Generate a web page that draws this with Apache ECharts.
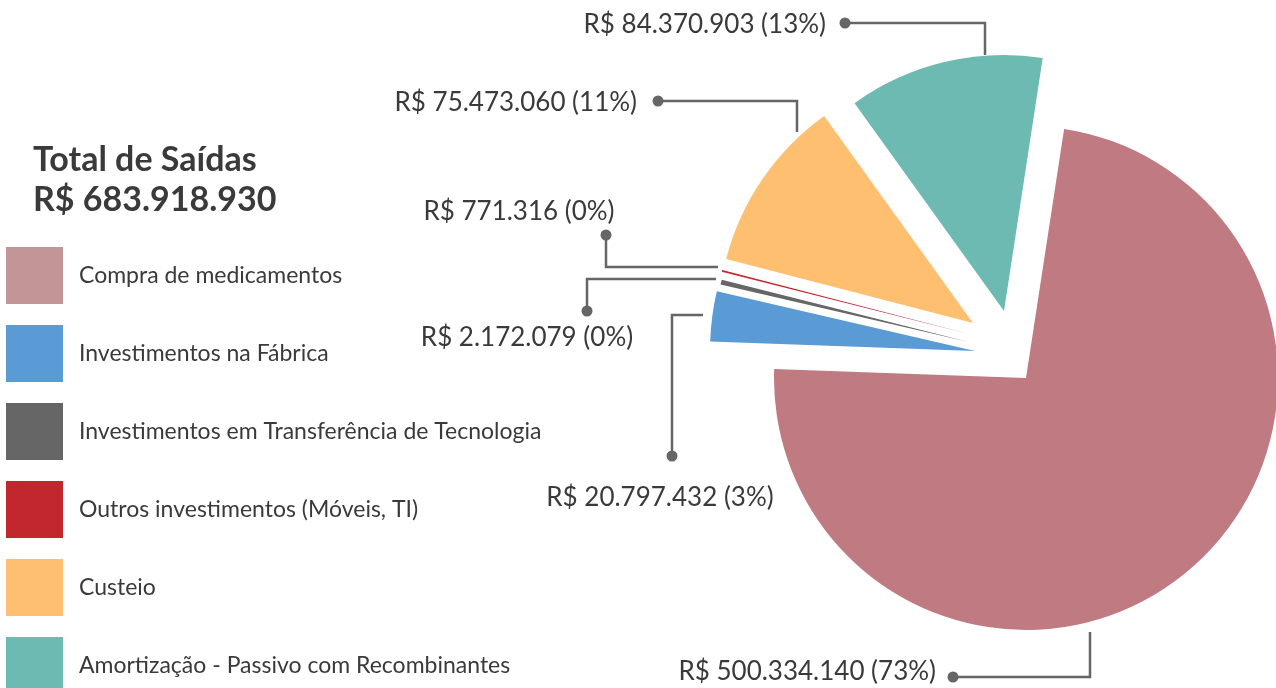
<!DOCTYPE html>
<html>
<head>
<meta charset="utf-8">
<script src="https://cdn.jsdelivr.net/npm/echarts@6/dist/echarts.min.js"></script>
<style>
  html, body { margin: 0; padding: 0; background: #ffffff; }
  #chart { width: 1276px; height: 688px; }
</style>
</head>
<body>
<div id="chart"></div>
<script>
// ---- data ----
const CATEGORIES = [
  'Compra de medicamentos',
  'Investimentos na Fábrica',
  'Investimentos em Transferência de Tecnologia',
  'Outros investimentos (Móveis, TI)',
  'Custeio',
  'Amortização - Passivo com Recombinantes'
];
const VALUES = [500334140, 20797432, 2172079, 771316, 75473060, 84370903];
const PERCENT_LABELS = [73, 3, 0, 0, 11, 13];
const TITLE_LINES = ['Total de Saídas', 'R$ 683.918.930'];

// ---- styles ----
const SLICE_COLORS = ['#bf7b81', '#5b9bd5', '#666666', '#c1272d', '#ffbf71', '#6cbab1'];
const LEGEND_COLORS = ['#c29596', '#5b9bd5', '#666666', '#c1272d', '#ffbf71', '#6cbab1'];
const FONT = 'Lato, "Open Sans", sans-serif';
const TEXT_COLOR = '#3a3a3a';
const LINE_COLOR = '#666666';

// ---- layout (exploded slices, each with its own centre) ----
const SLICE_POS = [
  { cx: 1026, cy: 378, r: 252 },
  { cx: 975,  cy: 351, r: 265 },
  { cx: 969,  cy: 342, r: 255 },
  { cx: 969,  cy: 334, r: 255 },
  { cx: 973,  cy: 323, r: 255 },
  { cx: 1004, cy: 311, r: 256 }
];
const START_ANGLE = 81.3;
const LABEL_POS = [
  { x: 936, y: 672, align: 'right',  line: [[1090, 632], [1090, 677], [953, 677]] },
  { x: 660, y: 498, align: 'center', line: [[703, 315], [672, 315], [672, 456]] },
  { x: 527, y: 338, align: 'center', line: [[716, 279], [587, 279], [587, 311]] },
  { x: 519, y: 212, align: 'center', line: [[718, 267], [606, 267], [606, 235]] },
  { x: 637, y: 103, align: 'right',  line: [[797, 132], [797, 101], [658, 101]] },
  { x: 826, y: 25,  align: 'right',  line: [[985, 55], [985, 23], [845, 23]] }
];

function fmtBRL(v) {
  return 'R$ ' + String(v).replace(/\B(?=(\d{3})+(?!\d))/g, '.');
}

const chart = echarts.init(document.getElementById('chart'), null, { renderer: 'canvas' });

const series = CATEGORIES.map(function (cat, k) {
  return {
    type: 'pie',
    name: cat,
    center: [SLICE_POS[k].cx, SLICE_POS[k].cy],
    radius: [0, SLICE_POS[k].r],
    startAngle: START_ANGLE,
    clockwise: true,
    silent: true,
    animation: false,
    avoidLabelOverlap: false,
    z: 2,
    itemStyle: { borderWidth: 0 },
    label: {
      show: true,
      fontFamily: FONT,
      fontSize: 26,
      color: TEXT_COLOR,
      formatter: function (p) {
        return fmtBRL(VALUES[p.dataIndex]) + ' (' + PERCENT_LABELS[p.dataIndex] + '%)';
      }
    },
    labelLine: {
      show: true,
      lineStyle: { color: LINE_COLOR, width: 2.5 }
    },
    labelLayout: function (p) {
      if (p.dataIndex !== k) return {};
      const L = LABEL_POS[k];
      return {
        x: L.x, y: L.y, align: L.align, verticalAlign: 'middle',
        labelLinePoints: L.line
      };
    },
    data: CATEGORIES.map(function (n, i) {
      return {
        name: n,
        value: VALUES[i],
        itemStyle: { color: i === k ? SLICE_COLORS[i] : 'rgba(0,0,0,0)' },
        label: { show: i === k },
        labelLine: { show: i === k }
      };
    })
  };
});

const dots = LABEL_POS.map(function (L) {
  const end = L.line[L.line.length - 1];
  return {
    type: 'circle',
    shape: { cx: end[0], cy: end[1], r: 5.5 },
    style: { fill: LINE_COLOR },
    z: 10, silent: true
  };
});

chart.setOption({
  backgroundColor: '#ffffff',
  animation: false,
  title: {
    text: TITLE_LINES.join('\n'),
    left: 33,
    top: 140,
    padding: 0,
    textStyle: {
      fontFamily: FONT,
      fontSize: 34,
      fontWeight: 'bold',
      color: TEXT_COLOR,
      lineHeight: 40
    }
  },
  legend: {
    orient: 'vertical',
    left: 6,
    top: 247,
    height: 480,
    itemWidth: 57,
    itemHeight: 57,
    itemGap: 21,
    icon: 'rect',
    selectedMode: false,
    padding: 0,
    textStyle: {
      fontFamily: FONT,
      fontSize: 23,
      color: TEXT_COLOR,
      padding: [0, 0, 0, 11]
    },
    itemStyle: { opacity: 1, borderWidth: 0 },
    data: CATEGORIES.map(function (n, i) {
      return { name: n, icon: 'rect', itemStyle: { color: LEGEND_COLORS[i], opacity: 1, borderWidth: 0 } };
    })
  },
  graphic: dots,
  series: series
});
</script>
</body>
</html>
